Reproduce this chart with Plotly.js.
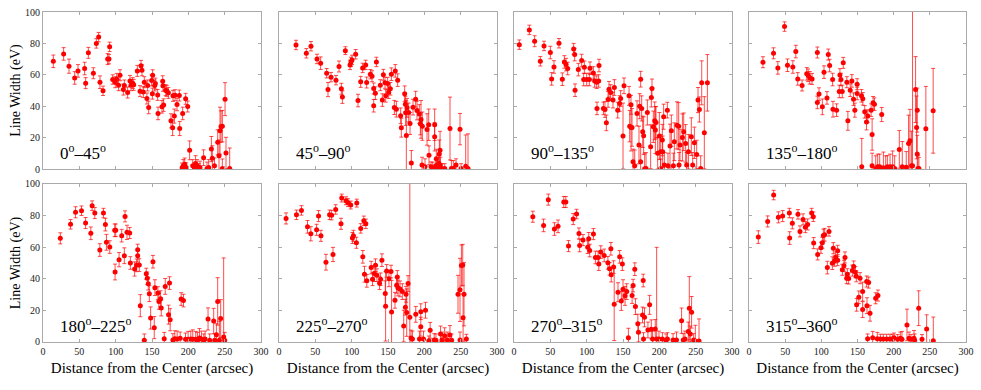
<!DOCTYPE html>
<html>
<head>
<meta charset="utf-8">
<script src="https://cdn.plot.ly/plotly-3.0.1.min.js"></script>
<style>
  html, body { margin: 0; padding: 0; background: #fff; }
  #plot { width: 981px; height: 390px; }
</style>
</head>
<body>
<div id="plot"></div>
<script>
// [distance (arcsec), line width (eV), error (eV)]
const sector1 = [
  [14.2, 68.6, 4], [28.4, 73.3, 4], [35.8, 65.5, 4.5], [43.6, 58, 4], [48.2, 62.5, 4],
  [57.3, 64, 4], [58.7, 54.7, 3.5], [62.4, 74, 3.5], [69.3, 61, 3.5], [73.4, 80, 3],
  [76.6, 84, 3], [78.4, 55.3, 4], [82.6, 49.8, 3], [89, 70, 3.5], [90.8, 70, 3],
  [91.7, 77.8, 3], [95.9, 57, 3], [99.5, 55.3, 3.5], [101.4, 57.4, 3.5], [104, 53.4, 3.5],
  [106, 59.7, 3.5], [110.6, 50.6, 3.5], [111.9, 53.2, 3.5], [116.5, 48.7, 3.5], [119.7, 56.1, 3.5],
  [121.1, 53.4, 3.5], [123.4, 54.7, 3.5], [124.8, 53.6, 3.5], [129.8, 62.5, 3.5], [133.5, 49.6, 3.5],
  [134.9, 65.7, 3.5], [136.2, 62.9, 3.5], [138, 49, 3.5], [139.4, 55.3, 3.5], [143, 44.9, 3.5],
  [144, 53.2, 3.5], [145.4, 39.2, 4], [149.5, 56.4, 3.5], [150.9, 59.7, 3.5], [150.5, 48, 3.5],
  [153.7, 53.2, 3.5], [154.6, 54.4, 3.5], [157.8, 47.2, 3.5], [158.3, 35.4, 4], [163.8, 39.6, 4],
  [164.7, 55.9, 3.5], [165.1, 53, 3.5], [166, 40.7, 4], [168.8, 50.2, 3.5], [170.2, 49.8, 3.5],
  [172.5, 48.5, 3.5], [176.1, 30.7, 4.5], [178.4, 26.3, 5], [178.9, 46.6, 3.5], [180.7, 33.7, 4.5],
  [181.7, 47, 3.5], [184.4, 41.1, 4], [187.6, 46.8, 3.5], [188.1, 25.8, 4.5], [192.2, 35.4, 4],
  [196.3, 44.7, 3.5], [199.1, 39.8, 3.5], [191.5, 0.8, 3], [193, 2, 4], [195, 3, 4],
  [197, 1, 3], [201.8, 11.9, 6], [206, 2, 4], [208.5, 1, 3], [210, 3.5, 5],
  [212, 2, 4], [214.5, 0.4, 3], [216, 1, 4], [221, 7.2, 5], [225.7, 0.4, 4],
  [228, 1, 5], [231.7, 12.7, 8], [233, 6.8, 8], [236, 2, 5], [240.4, 17, 8],
  [242.2, 8.5, 10], [243.6, 24.4, 15], [245, 27, 10], [246.8, 27.3, 10], [246.8, 0.4, 6],
  [250.5, 44.5, 10.5], [251.8, 10.2, 10], [256.9, 0.4, 13]
];

const sector2 = [
  [23.4, 79, 3], [37.6, 73.7, 3], [44, 78.2, 3], [52.3, 70.1, 3], [57.3, 67.4, 4],
  [65.6, 61, 3], [67.4, 50.6, 4.5], [71.6, 58.5, 3], [78.4, 56.6, 3], [82.6, 65.3, 3.5],
  [85.8, 51.1, 3.5], [87.2, 45.8, 4], [91.3, 75.4, 2.5], [97.7, 66.3, 3], [99, 68.2, 3],
  [100.5, 69.5, 3], [105.5, 73.1, 3], [108.7, 43.6, 4], [112.4, 55.5, 3.5], [115.1, 64.4, 3],
  [119.3, 66.3, 3], [120.6, 55.1, 3.5], [125.7, 60.4, 3], [128, 59.1, 3.5], [130.3, 51.3, 3.5],
  [130.3, 40.3, 4], [132.6, 48.3, 4], [134, 68.2, 3], [139.4, 53.4, 3.5], [142.2, 43.9, 4],
  [143.6, 60, 3.5], [145.9, 54.9, 3.5], [146.8, 46.6, 4], [149.5, 54.4, 4], [150.9, 48.9, 4],
  [153.2, 51.1, 4], [154.6, 60.4, 4], [158.7, 39.2, 4.5], [160, 62.5, 4], [161.5, 38.1, 5],
  [163.3, 56.6, 4], [167.4, 33.9, 5], [168.3, 26.3, 6], [172.9, 47.9, 5], [173.9, 41.3, 5],
  [174.3, 35.8, 8], [175.2, 21.4, 22], [176.1, 39, 6], [178.4, 36, 6], [180.3, 29, 7],
  [182.1, 3.8, 8], [184.4, 39.4, 5], [188, 44.5, 5], [189.9, 37.3, 6], [193.1, 35, 6],
  [194.5, 28.8, 7], [195.4, 31.6, 12], [196.8, 2.5, 5], [197.2, 27.3, 9], [200.9, 1.5, 5],
  [203.7, 25.2, 10], [206, 28.2, 10], [206.4, 8.7, 6], [209.2, 1.5, 3], [211.5, 0.4, 4],
  [214.2, 28.2, 10], [214.2, 20.5, 9], [215.6, 2, 4], [216.5, 6.6, 6], [218.3, 0.4, 3],
  [219.7, 3.6, 5], [220.6, 9.5, 9], [221.6, 12, 12], [222, 2.5, 5], [223.9, 0.4, 3],
  [228, 0.4, 3], [235.3, 25.8, 20], [237.2, 0.4, 5], [239.9, 0.4, 5], [243.6, 2.5, 4],
  [249.1, 25.4, 10], [250.5, 0.4, 3], [256.9, 1.7, 20], [260.1, 0.4, 22]
];

const sector3 = [
  [7.3, 79.2, 3], [21.1, 88.6, 3], [28.4, 81.4, 3.5], [36.2, 68.6, 3], [41.3, 78.4, 3],
  [50, 74.2, 4], [51.8, 57.4, 4], [55, 65, 4], [61.9, 80.1, 3], [66.5, 57.2, 4],
  [69.3, 68.2, 4], [71.6, 66.5, 4], [73.9, 64, 4], [82.1, 76.5, 3.5], [83.5, 72.9, 4],
  [84, 50.2, 4], [88.5, 63.3, 4], [93.1, 69.1, 4], [95.9, 57, 4], [96.8, 64.8, 4],
  [100, 57, 4], [103.7, 57, 4], [104.6, 64.2, 4], [109.2, 61.2, 4], [111, 56.1, 4],
  [113.8, 55.3, 4], [114.2, 38.6, 4], [116.5, 56.1, 4], [117, 65.9, 4], [123, 38.6, 4],
  [125.2, 37.9, 5], [127.1, 29.4, 5], [129.4, 44.3, 5], [130.7, 50.8, 5], [133, 48.7, 5],
  [136.2, 43.9, 5], [138.1, 51.9, 5], [142.7, 37.5, 5], [145.4, 41.7, 5], [146.8, 44.9, 5],
  [150, 21, 21], [151.4, 53, 5], [158.3, 46.6, 6], [159.2, 27.3, 10], [161, 26.5, 15],
  [161, 40.9, 6], [162.4, 26.5, 12], [163.8, 4.7, 8], [166.1, 2.1, 10], [169.3, 35.4, 8],
  [172, 15.3, 12], [172.9, 40, 8], [174.3, 57.2, 5], [174.3, 4.7, 10], [175.7, 38.6, 8],
  [177.1, 23.7, 10], [178.4, 21.2, 12], [179.8, 0.2, 10], [181.7, 0.4, 10], [183.5, 36, 8],
  [188, 14.2, 14], [189, 45.5, 6], [189.9, 51.3, 6], [191.7, 26.9, 10], [193.6, 30.7, 12],
  [194.5, 24.8, 15], [195.4, 29.7, 10], [197.7, 10, 10], [200, 21, 15], [201.8, 11, 11],
  [201.8, 0.4, 6], [204.1, 18.4, 10], [204.6, 11, 10], [205.9, 33.3, 8], [206.9, 2.5, 8],
  [211, 37.5, 5], [211.9, 2.1, 8], [214.7, 14.6, 14], [216.5, 24.4, 10], [219.3, 2.1, 8],
  [220.6, 17.4, 12], [224.3, 27.8, 15], [226.6, 27.3, 15], [227.1, 2.5, 8], [228.4, 15.3, 10],
  [231.7, 20.1, 15], [233.5, 23.7, 12], [236.2, 16.3, 12], [237.6, 2.5, 8], [240, 11, 11],
  [244, 20.6, 12], [245.9, 2.5, 8], [248.2, 16.7, 10], [251.4, 9.3, 9], [253.2, 43.9, 8],
  [255.1, 37.9, 8], [256.9, 0.4, 8], [258.3, 54.9, 14], [261.9, 23.1, 23], [266.1, 54.9, 18]
];

const sector4 = [
  [19.3, 68, 3.5], [33.9, 73.7, 3.5], [39.9, 64.4, 4], [49.1, 90.7, 3], [53.2, 66.1, 4],
  [60.6, 65, 4], [64.7, 74.8, 4], [67.4, 57.4, 4], [73.4, 53.2, 3.5], [79.8, 60.6, 4],
  [81.7, 59.7, 4], [84, 58.1, 4], [87.2, 57.4, 3.5], [94.5, 74.2, 3.5], [94.5, 42.4, 4],
  [96.8, 47.7, 4], [101.4, 39.6, 5], [103.7, 61.7, 4], [107.8, 45.3, 4], [109.6, 72.9, 3.5],
  [111.5, 65.9, 4], [115.6, 57, 4], [116.1, 38.1, 5], [121.1, 37.5, 4], [124.8, 49.4, 4],
  [125.7, 59.9, 4], [127.1, 57, 4], [128.9, 49.4, 4], [130.3, 67.6, 3.5], [135.3, 55.3, 3.5],
  [136.7, 30.7, 6], [139.9, 50.2, 4], [142.2, 56.1, 4], [144.5, 44.5, 4], [146.3, 37.5, 4.5],
  [149.5, 54, 3.5], [149.5, 48.1, 4], [155.5, 46.6, 4], [155.9, 1.5, 18], [157.3, 44.7, 4],
  [160, 36.4, 4], [162.4, 29.9, 5], [164.2, 33.7, 4], [168.8, 37.5, 4], [170.2, 22, 10],
  [170.2, 2.1, 8], [171.6, 42.2, 4], [173.4, 41.3, 4], [175.2, 0.4, 8], [177.9, 1.5, 8],
  [180.7, 1.5, 8], [183.5, 34.7, 4.5], [185.8, 0.8, 10], [189, 0.4, 8], [191.3, 1.5, 7],
  [195, 1.5, 8], [198.6, 1.5, 10], [201.4, 0.4, 8], [207.8, 12.5, 12], [211.9, 1.5, 16],
  [217.4, 1.1, 10], [220.6, 16.3, 18], [222.5, 18, 20], [224.8, 2.1, 22], [226.1, 2.1, 110],
  [230.3, 50.6, 21], [231.7, 26.5, 20], [232.6, 37.5, 14], [232.6, 9.5, 12], [233.5, 0.4, 8],
  [234.9, 0.4, 7], [244.5, 25.6, 27], [254.6, 37.1, 27]
];

const sector5 = [
  [23.8, 65.6, 3.5], [37.9, 74.5, 3], [44.8, 82.1, 3.5], [53, 83.1, 3], [58.6, 75.3, 3.5],
  [65.8, 68.8, 4], [67.6, 86.3, 3], [71.3, 81.6, 3.5], [78.2, 58.2, 4], [83.2, 81.6, 3],
  [85.9, 74.3, 4], [87.3, 63.1, 5], [91.9, 60.1, 4], [98.7, 70.7, 4], [99.2, 44.3, 5],
  [100.1, 70.7, 4], [104.7, 52.1, 4.5], [108.3, 67.3, 4], [111.9, 54.6, 5], [112.9, 79.5, 3.5],
  [115.6, 69.4, 4.5], [119.3, 69, 3.5], [120.2, 50, 4], [126.1, 46.2, 4.5], [128.9, 48.5, 4],
  [130.3, 54.6, 4], [130.3, 58.4, 3.5], [132.5, 48.7, 4], [133.9, 23, 7], [139.4, 1.1, 4],
  [142.1, 43.2, 3.5], [143.5, 40.3, 4], [144.9, 36.9, 4], [146.3, 30.6, 5], [148.1, 15.2, 7],
  [151.3, 50.8, 4], [153.1, 9.1, 7], [154, 34.4, 5], [158.1, 31, 4], [159.5, 25.7, 5],
  [161.8, 27.4, 5], [162.7, 21.5, 5], [166.8, 2.1, 4], [168.2, 35.2, 5], [172.8, 17.3, 6],
  [174.1, 37.3, 4], [175, 14.1, 7], [178.7, 1.3, 4], [181.4, 2.1, 5], [184.6, 1.9, 5],
  [188.8, 2.3, 4], [190.1, 27.2, 4], [193.3, 26.2, 4], [196.1, 1.7, 4], [199.7, 1.7, 5],
  [203.4, 1.9, 5], [206.1, 1.7, 6], [210.2, 1.7, 5], [212.5, 1.1, 5], [215.3, 2.5, 6],
  [218, 1.9, 5], [221.2, 1.1, 4], [223, 1.9, 5], [227.1, 14.6, 7], [229.4, 1.1, 4],
  [234.9, 13.3, 8], [236.3, 1.1, 4], [238.6, 4.6, 7], [240.4, 25.7, 15], [242.7, 1.1, 12],
  [244.5, 14.8, 12], [248.6, 3.2, 50], [250, 1.1, 5]
];

const sector6 = [
  [9.7, 78.2, 3.5], [24, 80.5, 3], [30.9, 83.3, 3], [39.2, 72.9, 4], [43.8, 68.5, 4.5],
  [51.7, 71, 3.5], [54.4, 79.7, 3.5], [57.7, 67.2, 3.5], [64.6, 50.5, 5], [69.6, 80.5, 3],
  [72.4, 80.3, 3], [74.3, 55.4, 4.5], [78, 83.9, 3], [85.3, 74.8, 3.5], [86.3, 91.1, 2.5],
  [92.2, 89.4, 2.5], [95, 88.2, 2.5], [98.7, 86.7, 2.5], [107, 87.9, 2.5], [101, 65.8, 3.5],
  [102.4, 67.2, 3.5], [106.5, 62.8, 3.5], [112.5, 71.9, 3], [116.7, 76.7, 3], [119.5, 74.8, 3],
  [115.3, 53.9, 4], [117.6, 42.9, 5], [120.8, 38.7, 4], [126.8, 47.1, 4], [128.7, 39.7, 4],
  [131, 43.3, 5], [132.8, 48.6, 4], [134.7, 42.3, 4], [138.4, 37.2, 4], [139.8, 39.7, 4],
  [141.6, 51.8, 4], [146.2, 30.7, 8], [146.7, 22.6, 22], [148.1, 45, 4], [151.3, 40, 5],
  [154.1, 44.6, 4], [154.9, 19, 20], [159.6, 26.4, 5], [161.9, 35.9, 5], [162.8, 41.2, 4],
  [163.7, 34.2, 5], [166.5, 33.6, 5], [169.7, 31.9, 5], [171.6, 10.1, 10], [173.9, 22, 5],
  [174.8, 30.2, 5], [177.6, 37, 5], [175.7, 18.6, 15], [180, 15.6, 100], [181.7, 2.5, 5],
  [183.6, 1.9, 5], [188.2, 17.5, 5], [193.3, 1.9, 5], [195.1, 9.7, 6], [195.1, 19.2, 5],
  [198.8, 1.9, 5], [201.6, 20.1, 5], [206.2, 0.8, 3], [208, 7.4, 5], [213.6, 1.3, 4],
  [215.9, 1.1, 4], [222.3, 5.1, 5], [224.2, 1.3, 5], [227.9, 4, 5], [231.5, 1.3, 5],
  [235.2, 4.4, 6], [237.5, 1.1, 4], [246.3, 30.2, 12], [249.1, 33, 20], [251, 48.4, 13],
  [252.8, 48.8, 13], [253.3, 15.4, 15], [254.6, 30.2, 20], [249.1, 1.3, 5], [257.8, 1.9, 3]
];

const sector7 = [
  [25.9, 79.3, 3.5], [40.7, 73.8, 4], [47.2, 90.1, 3.5], [55.6, 71.5, 4], [60.6, 73.2, 4],
  [68.5, 88.6, 3.5], [71.3, 88.6, 3.5], [75, 60.7, 3.5], [81.5, 77.8, 3.5], [86.1, 81, 3],
  [89.4, 68.7, 3.5], [90.3, 61.1, 4], [94.9, 64.5, 3.5], [101.4, 60, 4], [102.8, 65.3, 4],
  [104.2, 57.9, 4], [109.3, 68.3, 3.5], [112, 53.5, 4], [115.7, 53.5, 4], [116.7, 49.3, 4],
  [119.4, 56.9, 4], [124.1, 54.8, 4], [129.2, 50.1, 4], [131.5, 46.3, 4], [133.3, 59, 4],
  [133.8, 42.5, 4.5], [137, 47.4, 4], [137.9, 23.9, 23], [143.1, 31.5, 6], [145.4, 53.9, 4],
  [147.7, 26, 6], [149.1, 49.3, 4], [150, 33.4, 6], [152.8, 29.2, 6], [155.1, 31.9, 5],
  [157.4, 2.7, 6], [162.5, 29.4, 5], [163.9, 35.7, 4], [166.2, 46.1, 4], [167.1, 22.4, 5],
  [170.4, 11.6, 6], [171.3, 6.1, 6], [176.9, 17.1, 5], [177.8, 38.9, 4], [178.2, 1.9, 4],
  [179.6, 15.6, 6], [184.3, 7.6, 5], [186.6, 23.5, 6], [188.9, 8, 6], [190.7, 1.9, 5],
  [194.4, 8.2, 6], [196.3, 1.9, 58], [199.5, 1.9, 5], [204.2, 1.9, 4], [209.3, 1.1, 4],
  [211.1, 1.9, 4], [218.9, 1.3, 4], [223.6, 1.3, 5], [230.6, 13.5, 8], [232.9, 1.3, 4],
  [235.2, 1.9, 5], [239.8, 6.6, 6], [241.2, 21.4, 20], [242.6, 5.1, 5], [244.4, 18.8, 10],
  [247.2, 1.3, 4], [249.5, 0.6, 10], [254.6, 0.6, 14]
];

const sector8 = [
  [12.9, 66.4, 4], [25.8, 76.3, 3.5], [34.1, 93, 3], [40.6, 78.9, 3.5], [46.5, 79.7, 3.5],
  [55.8, 81.6, 3], [56.2, 65.8, 4], [59.9, 75.1, 3.5], [67.7, 80.8, 3], [70.5, 70, 3.5],
  [74.7, 77.6, 3.5], [77.9, 72.7, 3.5], [81.1, 74.4, 3.5], [86.6, 81.6, 3], [88.9, 79.3, 3],
  [89.4, 62.6, 3.5], [94.9, 55.4, 3.5], [99.5, 59.6, 3.5], [101.4, 62.8, 3.5], [102.8, 67.4, 4],
  [104.6, 67.9, 4], [110.6, 70, 3], [108.3, 47.1, 4], [116.6, 59.4, 3.5], [115.2, 49.9, 4],
  [118.4, 51.4, 3.5], [119.8, 53.5, 3.5], [122.6, 51.8, 3.5], [122.6, 57.7, 3.5], [129, 45.7, 3.5],
  [131.3, 48.2, 3.5], [132.7, 53.5, 3.5], [135, 40.4, 3.5], [135.9, 42.9, 3.5], [137.8, 40.2, 3.5],
  [142.9, 45.2, 3.5], [144.7, 47.8, 3.5], [147, 44.2, 3.5], [148.4, 41.6, 3.5], [148.8, 23.5, 4],
  [151.8, 28.3, 4], [153.5, 40.4, 3.5], [157.1, 20.5, 5], [157.1, 31.9, 6], [162.7, 38.3, 3.5],
  [163.1, 23, 5], [165.4, 37.6, 3.5], [167.3, 18.2, 5], [164, 2.1, 3], [171, 2.7, 4],
  [175.1, 27.7, 3.5], [178.3, 29.4, 3.5], [177.4, 2.1, 4], [181.6, 1.9, 3], [185.7, 1.9, 3],
  [190.3, 1.9, 3], [194.9, 1.9, 3], [198.2, 1.9, 3], [200.5, 2.7, 3], [205.5, 1.7, 3],
  [209.2, 2.3, 4], [211.5, 1.7, 5], [218.4, 10.8, 10], [221.2, 2.3, 4], [223.9, 1.7, 3],
  [228.1, 2.3, 5], [229, 1.1, 4], [234.6, 21.4, 11], [239.2, 1.7, 3], [245.6, 8.2, 9],
  [254.8, 0.8, 15]
];

const sectors = [sector1, sector2, sector3, sector4, sector5, sector6, sector7, sector8];
const sectorLabels = [
  "0<sup>o</sup>–45<sup>o</sup>", "45<sup>o</sup>–90<sup>o</sup>",
  "90<sup>o</sup>–135<sup>o</sup>", "135<sup>o</sup>–180<sup>o</sup>",
  "180<sup>o</sup>–225<sup>o</sup>", "225<sup>o</sup>–270<sup>o</sup>",
  "270<sup>o</sup>–315<sup>o</sup>", "315<sup>o</sup>–360<sup>o</sup>"
];
const xTickVals = [0, 50, 100, 150, 200, 250, 300];
const yTickVals = [0, 20, 40, 60, 80, 100];

const serif = "Liberation Serif";
const colDomains = [[0, 0.2362], [0.2557, 0.4919], [0.5103, 0.7465], [0.7649, 1]];
const rowDomains = [[0.5242, 1], [0, 0.4788]];

const traces = [];
const layout = {
  width: 981,
  height: 390,
  margin: { l: 43, r: 15, t: 12, b: 48 },
  paper_bgcolor: "#fff",
  plot_bgcolor: "#fff",
  showlegend: false,
  font: { family: serif, color: "#000" },
  annotations: []
};

sectors.forEach((pts, i) => {
  const n = i + 1;
  const row = Math.floor(i / 4);
  const col = i % 4;
  const xa = n === 1 ? "x" : "x" + n;
  const ya = n === 1 ? "y" : "y" + n;

  traces.push({
    type: "scatter",
    mode: "markers",
    x: pts.map(p => p[0]),
    y: pts.map(p => p[1]),
    xaxis: xa,
    yaxis: ya,
    marker: { color: "#ff0000", size: 5 },
    error_y: {
      type: "data",
      array: pts.map(p => p[2]),
      color: "rgba(255,0,0,0.7)",
      thickness: 1,
      width: 2
    },
    hoverinfo: "x+y"
  });

  layout["xaxis" + (n === 1 ? "" : n)] = {
    domain: colDomains[col],
    anchor: ya,
    range: [0, 300],
    tickvals: xTickVals,
    showticklabels: row === 1,
    ticks: "inside",
    ticklen: 3,
    tickcolor: "#aaa",
    showgrid: false,
    zeroline: false,
    showline: true,
    mirror: "ticks",
    linecolor: "#aaa",
    linewidth: 1,
    tickfont: { family: serif, size: 10, color: "#222" },
    title: row === 1 ? {
      text: "Distance from the Center (arcsec)",
      font: { family: serif, size: 15, color: "#000" },
      standoff: 6
    } : { text: "" }
  };

  layout["yaxis" + (n === 1 ? "" : n)] = {
    domain: rowDomains[row],
    anchor: xa,
    range: [0, 100],
    tickvals: yTickVals,
    showticklabels: col === 0,
    ticks: "inside",
    ticklen: 3,
    tickcolor: "#aaa",
    showgrid: false,
    zeroline: false,
    showline: true,
    mirror: "ticks",
    linecolor: "#aaa",
    linewidth: 1,
    tickfont: { family: serif, size: 10, color: "#222" },
    title: col === 0 ? {
      text: "Line Width (eV)",
      font: { family: serif, size: 14, color: "#000" },
      standoff: 1
    } : { text: "" }
  };

  layout.annotations.push({
    xref: xa,
    yref: ya,
    x: 21,
    y: 11,
    xanchor: "left",
    yanchor: "middle",
    text: sectorLabels[i],
    showarrow: false,
    font: { family: serif, size: 17, color: "#000" }
  });
});

Plotly.newPlot("plot", traces, layout, { displayModeBar: false, staticPlot: true });
</script>
</body>
</html>
